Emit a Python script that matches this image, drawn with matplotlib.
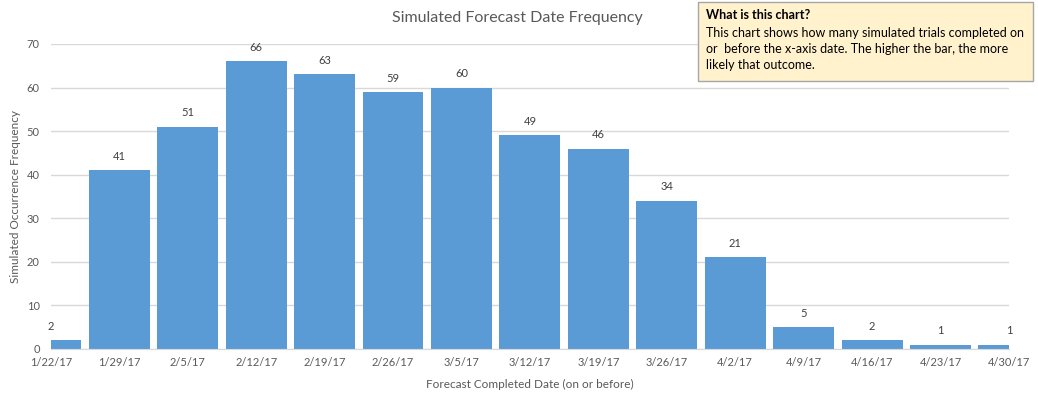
import matplotlib.pyplot as plt

dates = ['1/22/17', '1/29/17', '2/5/17', '2/12/17', '2/19/17', '2/26/17', '3/5/17',
         '3/12/17', '3/19/17', '3/26/17', '4/2/17', '4/9/17', '4/16/17', '4/23/17', '4/30/17']
counts = [2, 41, 51, 66, 63, 59, 60, 49, 46, 34, 21, 5, 2, 1, 1]

plt.rcParams['font.family'] = ['Lato', 'DejaVu Sans']
txt = '#595959'

fig = plt.figure(figsize=(10.38, 3.96), dpi=100)
ax = fig.add_axes([0.049, 0.119, 0.923, 0.770])

x = list(range(len(dates)))
ax.bar(x, counts, width=0.89, color='#5B9BD5', zorder=2)
for xi, c in zip(x, counts):
    ax.annotate(str(c), (xi, c), xytext=(0, 6), textcoords='offset points',
                ha='center', va='bottom', fontsize=8, color='#404040')

ax.set_xlim(0, len(dates) - 1)
ax.set_ylim(0, 70)
ax.set_xticks(x)
ax.set_xticklabels(dates)
ax.set_yticks(range(0, 71, 10))
ax.tick_params(length=0, labelsize=8, colors=txt)
ax.tick_params(axis='x', pad=6)
ax.tick_params(axis='y', pad=8)
ax.grid(axis='y', color='#D9D9D9', linewidth=1, zorder=0)
for s in ['top', 'right', 'left']:
    ax.spines[s].set_visible(False)
ax.spines['bottom'].set_color('#D9D9D9')
ax.spines['bottom'].set_zorder(3)

ax.set_xlabel('Forecast Completed Date (on or before)', fontsize=8.5, color=txt, labelpad=8)
ax.set_ylabel('Simulated Occurrence Frequency', fontsize=8.5, color=txt, labelpad=4)
fig.text(0.498, 0.955, 'Simulated Forecast Date Frequency', ha='center', va='center',
         fontsize=11.5, color=txt)

# info box
box = plt.Rectangle((0.672, 0.795), 0.323, 0.2, transform=fig.transFigure,
                    facecolor='#FFF2CC', edgecolor='#A6A6A6', linewidth=1, zorder=5)
fig.add_artist(box)
fig.text(0.680, 0.962, 'What is this chart?', fontsize=9, fontweight='bold',
         color='black', va='center', zorder=6)
fig.text(0.680, 0.932,
         'This chart shows how many simulated trials completed on\n'
         'or  before the x-axis date. The higher the bar, the more\n'
         'likely that outcome.',
         fontsize=9, color='black', va='top', linespacing=1.38, zorder=6)

fig.savefig('out.png', dpi=100)
